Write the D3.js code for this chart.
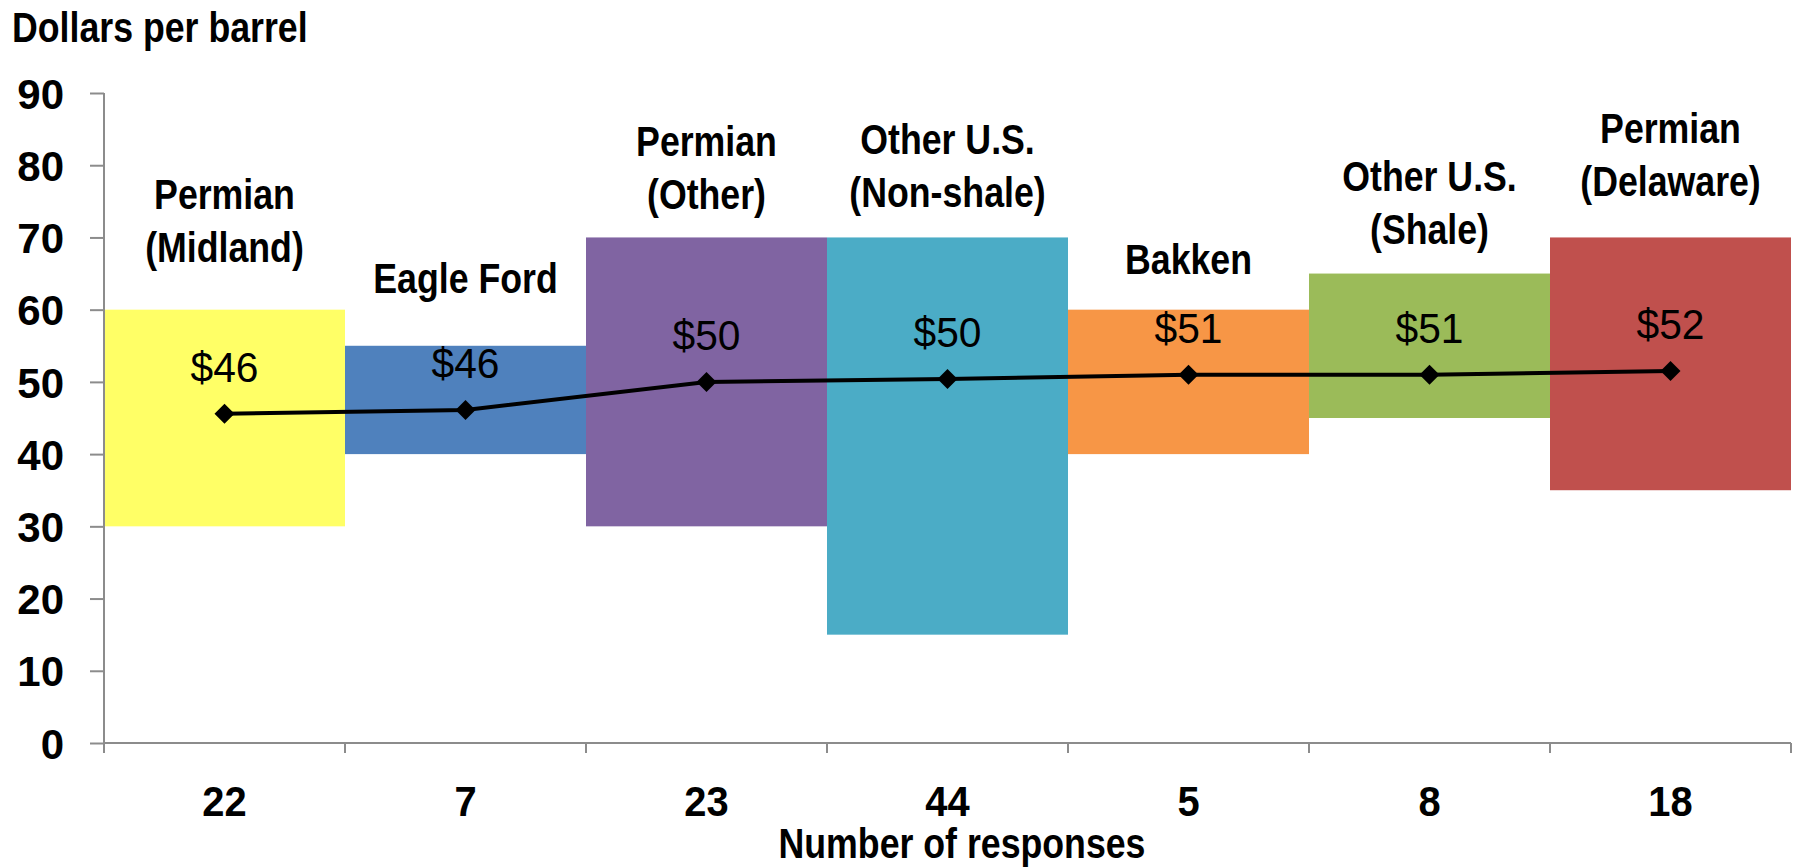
<!DOCTYPE html>
<html>
<head>
<meta charset="utf-8">
<script src="https://cdn.jsdelivr.net/npm/d3@7"></script>
<style>
  body { margin: 0; background: #fff; }
  svg text { font-family: 'Liberation Sans', Arial, sans-serif; fill: #000; }
</style>
</head>
<body>
<div id="chart"></div>
<script>
// regions, left to right
const regions = [
  ['Permian', '(Midland)'],
  ['Eagle Ford'],
  ['Permian', '(Other)'],
  ['Other U.S.', '(Non-shale)'],
  ['Bakken'],
  ['Other U.S.', '(Shale)'],
  ['Permian', '(Delaware)'],
];
const responses = ['22', '7', '23', '44', '5', '8', '18'];
// breakeven range (low / high) and average, dollars per barrel
const rangeLow = [30, 40, 30, 15, 40, 45, 35];
const rangeHigh = [60, 55, 70, 70, 60, 65, 70];
const average = [45.6, 46.1, 50.0, 50.4, 51.0, 51.0, 51.5];
const avgLabels = ['$46', '$46', '$50', '$50', '$51', '$51', '$52'];
const yTicks = [0, 10, 20, 30, 40, 50, 60, 70, 80, 90];
// where each region name sits (baseline of its last line, in dollars)
const nameAt = [66.6, 62.3, 74.0, 74.2, 64.9, 69.1, 75.8];
const colors = ['#FFFF66', '#4F81BD', '#8064A2', '#4BACC6', '#F79646', '#9BBB59', '#C0504D'];

const width = 1796;
const height = 868;
const margin = { top: 93, right: 5, bottom: 125, left: 104 };
const fontSize = 42;
const narrow = 0.85; // the original face is a condensed one

const svg = d3.select('#chart')
  .append('svg')
  .attr('width', width)
  .attr('height', height);

// text squeezed horizontally around its anchor point
function label(g, tx, ty, str, anchor, bold, sx) {
  return g.append('text')
    .attr('transform', `translate(${tx},${ty}) scale(${sx},1)`)
    .attr('text-anchor', anchor)
    .style('font-size', `${fontSize}px`)
    .style('font-weight', bold ? 'bold' : 'normal')
    .text(str);
}

const idx = d3.range(regions.length);

const x = d3.scaleBand()
  .domain(idx)
  .range([margin.left, width - margin.right])
  .padding(0);

const y = d3.scaleLinear()
  .domain([0, 90])
  .range([height - margin.bottom, margin.top]);

const cx = (i) => x(i) + x.bandwidth() / 2;

// range boxes
svg.append('g')
  .selectAll('rect')
  .data(idx)
  .enter()
  .append('rect')
  .attr('x', (i) => x(i))
  .attr('width', x.bandwidth())
  .attr('y', (i) => y(rangeHigh[i]))
  .attr('height', (i) => y(rangeLow[i]) - y(rangeHigh[i]))
  .style('fill', (i) => colors[i]);

// y axis
const yAxis = svg.append('g')
  .attr('transform', `translate(${margin.left},0)`)
  .call(d3.axisLeft(y).tickValues(yTicks).tickSize(14).tickPadding(26));
yAxis.selectAll('line, path').style('stroke', '#8c8c8c').style('stroke-width', 2);
yAxis.select('.domain').attr('d', `M0,${y(90)}V${y(0)}`);
yAxis.selectAll('text')
  .style('font-size', `${fontSize}px`)
  .style('font-weight', 'bold')
  .style('font-family', "'Liberation Sans', Arial, sans-serif")
  .attr('dy', '0.36em');

// x axis: line plus ticks on the band edges
const xAxis = svg.append('g');
xAxis.append('line')
  .attr('x1', x.range()[0])
  .attr('x2', x.range()[1])
  .attr('y1', y(0))
  .attr('y2', y(0))
  .style('stroke', '#8c8c8c')
  .style('stroke-width', 2);
xAxis.selectAll('.edge')
  .data(idx.concat([regions.length]))
  .enter()
  .append('line')
  .attr('class', 'edge')
  .attr('x1', (i) => (i < regions.length ? x(i) : x.range()[1]))
  .attr('x2', (i) => (i < regions.length ? x(i) : x.range()[1]))
  .attr('y1', y(0))
  .attr('y2', y(0) + 10)
  .style('stroke', '#8c8c8c')
  .style('stroke-width', 2);
idx.forEach((i) => label(xAxis, cx(i), y(0) + 73, responses[i], 'middle', true, 0.95));

label(svg, 962, 858, 'Number of responses', 'middle', true, narrow);
label(svg, 12, 42, 'Dollars per barrel', 'start', true, narrow);

// average line with diamond markers
const line = d3.line()
  .x((i) => cx(i))
  .y((i) => y(average[i]));

svg.append('path')
  .datum(idx)
  .attr('d', line)
  .style('fill', 'none')
  .style('stroke', '#000')
  .style('stroke-width', 4);

svg.append('g')
  .selectAll('path')
  .data(idx)
  .enter()
  .append('path')
  .attr('d', d3.symbol(d3.symbolSquare, 200))
  .attr('transform', (i) => `translate(${cx(i)},${y(average[i])}) rotate(45)`)
  .style('fill', '#000');

// average labels
const avgG = svg.append('g');
idx.forEach((i) => label(avgG, cx(i), y(average[i]) - 32, avgLabels[i], 'middle', false, 0.97));

// region names
const namesG = svg.append('g');
idx.forEach((i) => {
  const lines = regions[i];
  const n = lines.length;
  lines.forEach((str, k) => {
    label(namesG, cx(i), y(nameAt[i]) - (n - 1 - k) * 53, str, 'middle', true, narrow);
  });
});
</script>
</body>
</html>
